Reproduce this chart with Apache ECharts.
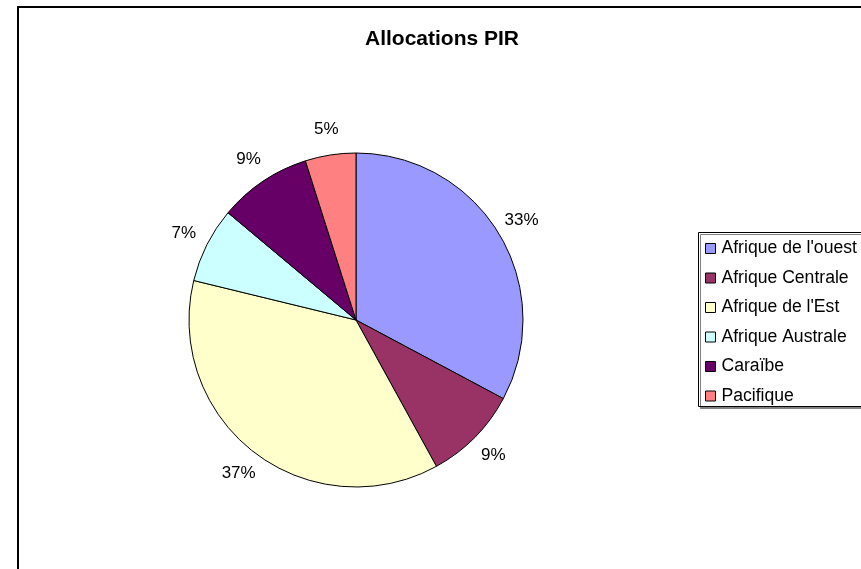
<!DOCTYPE html>
<html>
<head>
<meta charset="utf-8">
<script src="https://cdn.jsdelivr.net/npm/echarts@6/dist/echarts.min.js"></script>
<style>
html,body{margin:0;padding:0;background:#fff;}
#chart{width:861px;height:569px;}
</style>
</head>
<body>
<div id="chart"></div>
<script>
const titleText = 'Allocations PIR';
const categories = ["Afrique de l'ouest", 'Afrique Centrale', "Afrique de l'Est", 'Afrique Australe', 'Caraïbe', 'Pacifique'];
const values = [32.8, 9.2, 36.8, 7.3, 9.0, 4.9];
const colors = ['#9999FF', '#993366', '#FFFFCC', '#CCFFFF', '#660066', '#FF8080'];

const FONT = '"Liberation Sans", Arial, sans-serif';
const data = categories.map((c, i) => ({ name: c, value: values[i] }));

const chart = echarts.init(document.getElementById('chart'), null, { renderer: 'canvas' });
chart.setOption({
  animation: false,
  color: colors,
  title: {
    text: titleText,
    left: 442,
    textAlign: 'center',
    top: 29,
    padding: 0,
    textStyle: { fontFamily: FONT, fontSize: 21, fontWeight: 'bold', color: '#000' }
  },
  graphic: [
    { type: 'rect', z: -10, shape: { x: 18, y: 7, width: 900, height: 600 },
      style: { fill: 'none', stroke: '#000', lineWidth: 2 } },
    { type: 'rect', z: -5, shape: { x: 698.5, y: 232.5, width: 200, height: 174 },
      style: { fill: '#fff', stroke: '#000', lineWidth: 1,
               shadowColor: '#808080', shadowOffsetX: 2, shadowOffsetY: 2, shadowBlur: 0 } }
  ],
  legend: {
    orient: 'vertical',
    left: 705,
    top: 239.5,
    padding: 0,
    itemGap: 11.5,
    itemWidth: 10,
    itemHeight: 10,
    icon: 'rect',
    selectedMode: false,
    data: categories.map((c, i) => ({ name: c, itemStyle: { color: colors[i], borderColor: '#000', borderWidth: 1 } })),
    textStyle: { fontFamily: FONT, fontSize: 17.6, color: '#000', lineHeight: 17.5, padding: [0, 0, 0, 1] }
  },
  series: [
    {
      type: 'pie',
      center: [356, 320],
      radius: [0, 167],
      startAngle: 90,
      clockwise: true,
      silent: true,
      label: { show: false },
      labelLine: { show: false },
      itemStyle: { borderColor: '#000', borderWidth: 1 },
      emphasis: { disabled: true },
      data: data
    },
    {
      type: 'pie',
      center: [356, 320],
      radius: [175, 205],
      startAngle: 90,
      clockwise: true,
      silent: true,
      itemStyle: { color: 'transparent', borderWidth: 0 },
      emphasis: { disabled: true },
      labelLine: { show: false },
      label: {
        show: true,
        position: 'inside',
        fontFamily: FONT,
        fontSize: 17,
        color: '#000',
        formatter: p => Math.round(p.percent) + '%'
      },
      data: data
    }
  ]
});
</script>
</body>
</html>
